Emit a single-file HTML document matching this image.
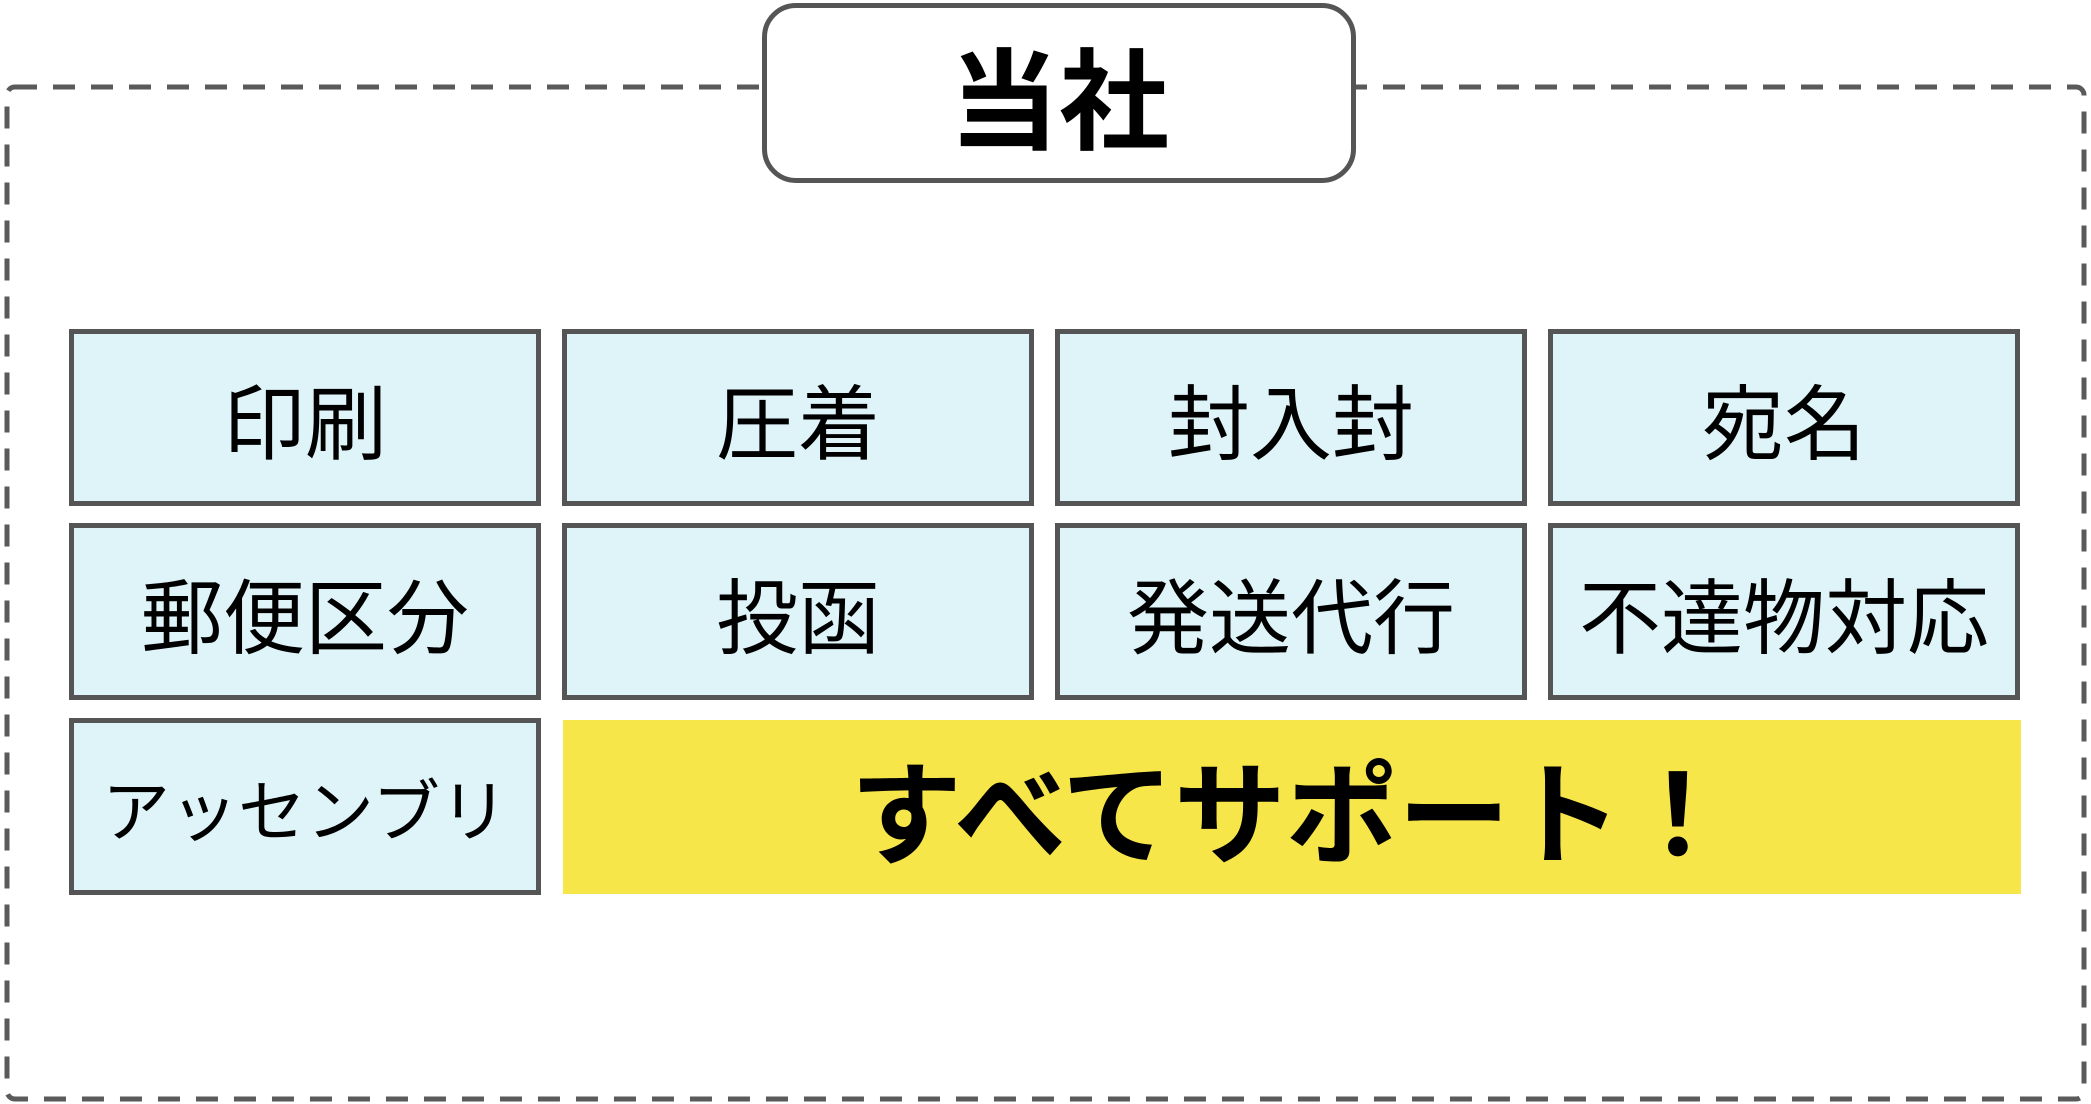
<!DOCTYPE html>
<html><head><meta charset="utf-8"><style>
html,body{margin:0;padding:0;background:#fff;}
body{width:2091px;height:1104px;position:relative;overflow:hidden;font-family:"Liberation Sans","Noto Sans CJK JP",sans-serif;}
svg.d{position:absolute;left:0;top:0;}
.title{position:absolute;left:762px;top:3px;width:584px;height:170px;border:5px solid #555;border-radius:34px;background:#fff;display:flex;align-items:center;justify-content:center;font-size:110px;font-weight:bold;color:#000;}
.b{position:absolute;box-sizing:border-box;width:472px;height:177px;border:5px solid #555;background:#dff4f8;display:flex;align-items:center;justify-content:center;font-size:82px;color:#000;}
.y{position:absolute;left:563px;top:720px;width:1458px;height:174px;background:#f7e64a;display:flex;align-items:center;justify-content:center;font-size:112px;font-weight:bold;color:#000;}
</style></head><body>
<svg class="d" width="2091" height="1104"><rect x="7" y="87" width="2077" height="1012" rx="8" fill="none" stroke="#5a5a5a" stroke-width="5" stroke-dasharray="22 16"/></svg>
<div class="title">当社</div>
<div class="b" style="left:69px;top:329px">印刷</div>
<div class="b" style="left:562px;top:329px">圧着</div>
<div class="b" style="left:1055px;top:329px">封入封</div>
<div class="b" style="left:1548px;top:329px">宛名</div>
<div class="b" style="left:69px;top:523px">郵便区分</div>
<div class="b" style="left:562px;top:523px">投函</div>
<div class="b" style="left:1055px;top:523px">発送代行</div>
<div class="b" style="left:1548px;top:523px">不達物対応</div>
<div class="b" style="left:69px;top:718px;font-size:68px">アッセンブリ</div>
<div class="y">すべてサポート！</div>
</body></html>
